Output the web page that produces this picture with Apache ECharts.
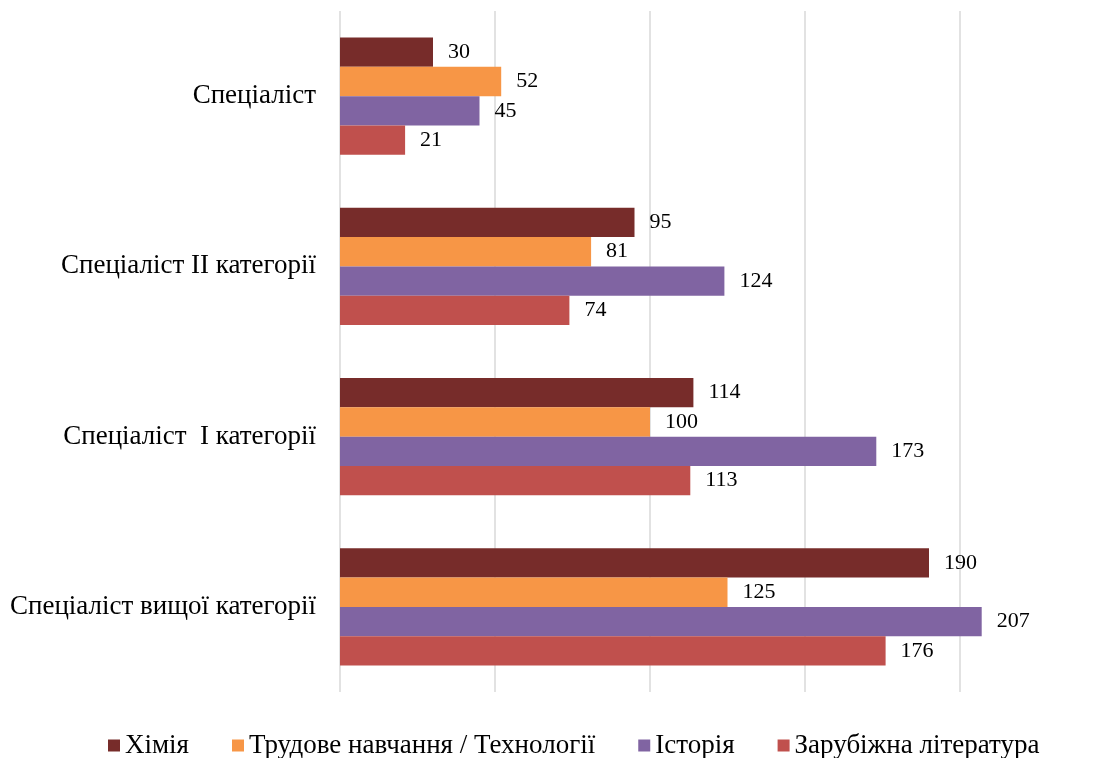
<!DOCTYPE html>
<html>
<head>
<meta charset="utf-8">
<title>Спеціалісти за категоріями</title>
<script src="https://cdn.jsdelivr.net/npm/echarts@6/dist/echarts.min.js"></script>
<style>
  html, body { margin: 0; padding: 0; background: #fff; }
  #chart-bar { width: 1112px; height: 758px; }
</style>
</head>
<body>
<div id="chart-bar"></div>
<script>
const categories = ['Спеціаліст', 'Спеціаліст II категорії', 'Спеціаліст  I категорії', 'Спеціаліст вищої категорії']
const seriesNames = ['Хімія', 'Трудове навчання / Технології', 'Історія', 'Зарубіжна література']
const chemistry = [30, 95, 114, 190]
const technology = [52, 81, 100, 125]
const history = [45, 124, 173, 207]
const literature = [21, 74, 113, 176]
const seriesData = [chemistry, technology, history, literature]

const colors = ['#772C2A', '#F79646', '#8064A2', '#C0504D']
const fontFamily = '"Liberation Serif", "Times New Roman", serif'

const drawChart = () => {
  const chart = echarts.init(document.getElementById('chart-bar'))
  const option = {
    color: colors,
    animation: false,
    textStyle: { fontFamily: fontFamily },
    legend: {
      left: 108,
      top: 732,
      padding: 0,
      itemWidth: 12,
      itemHeight: 12,
      itemGap: 43,
      icon: 'rect',
      textStyle: {
        fontFamily: fontFamily,
        fontSize: 27,
        color: '#000'
      },
      data: seriesNames
    },
    grid: {
      left: 340,
      top: 11,
      width: 775,
      height: 681,
      containLabel: false,
      outerBoundsMode: 'none'
    },
    xAxis: {
      type: 'value',
      min: 0,
      max: 250,
      interval: 50,
      axisLabel: { show: false },
      axisLine: { show: false },
      axisTick: { show: false },
      splitLine: {
        lineStyle: { color: '#D9D9D9', width: 1.5 }
      }
    },
    yAxis: {
      type: 'category',
      inverse: true,
      data: categories,
      axisLine: { show: false },
      axisTick: { show: false },
      axisLabel: {
        margin: 24,
        fontFamily: fontFamily,
        fontSize: 27,
        color: '#000'
      }
    },
    series: seriesNames.map((name, i) => ({
      name: name,
      type: 'bar',
      data: seriesData[i],
      barGap: 0,
      barCategoryGap: '31%',
      label: {
        show: true,
        position: 'right',
        distance: 15,
        fontFamily: fontFamily,
        fontSize: 22,
        color: '#000'
      }
    }))
  }
  chart.setOption(option)
}

drawChart()
</script>
</body>
</html>
